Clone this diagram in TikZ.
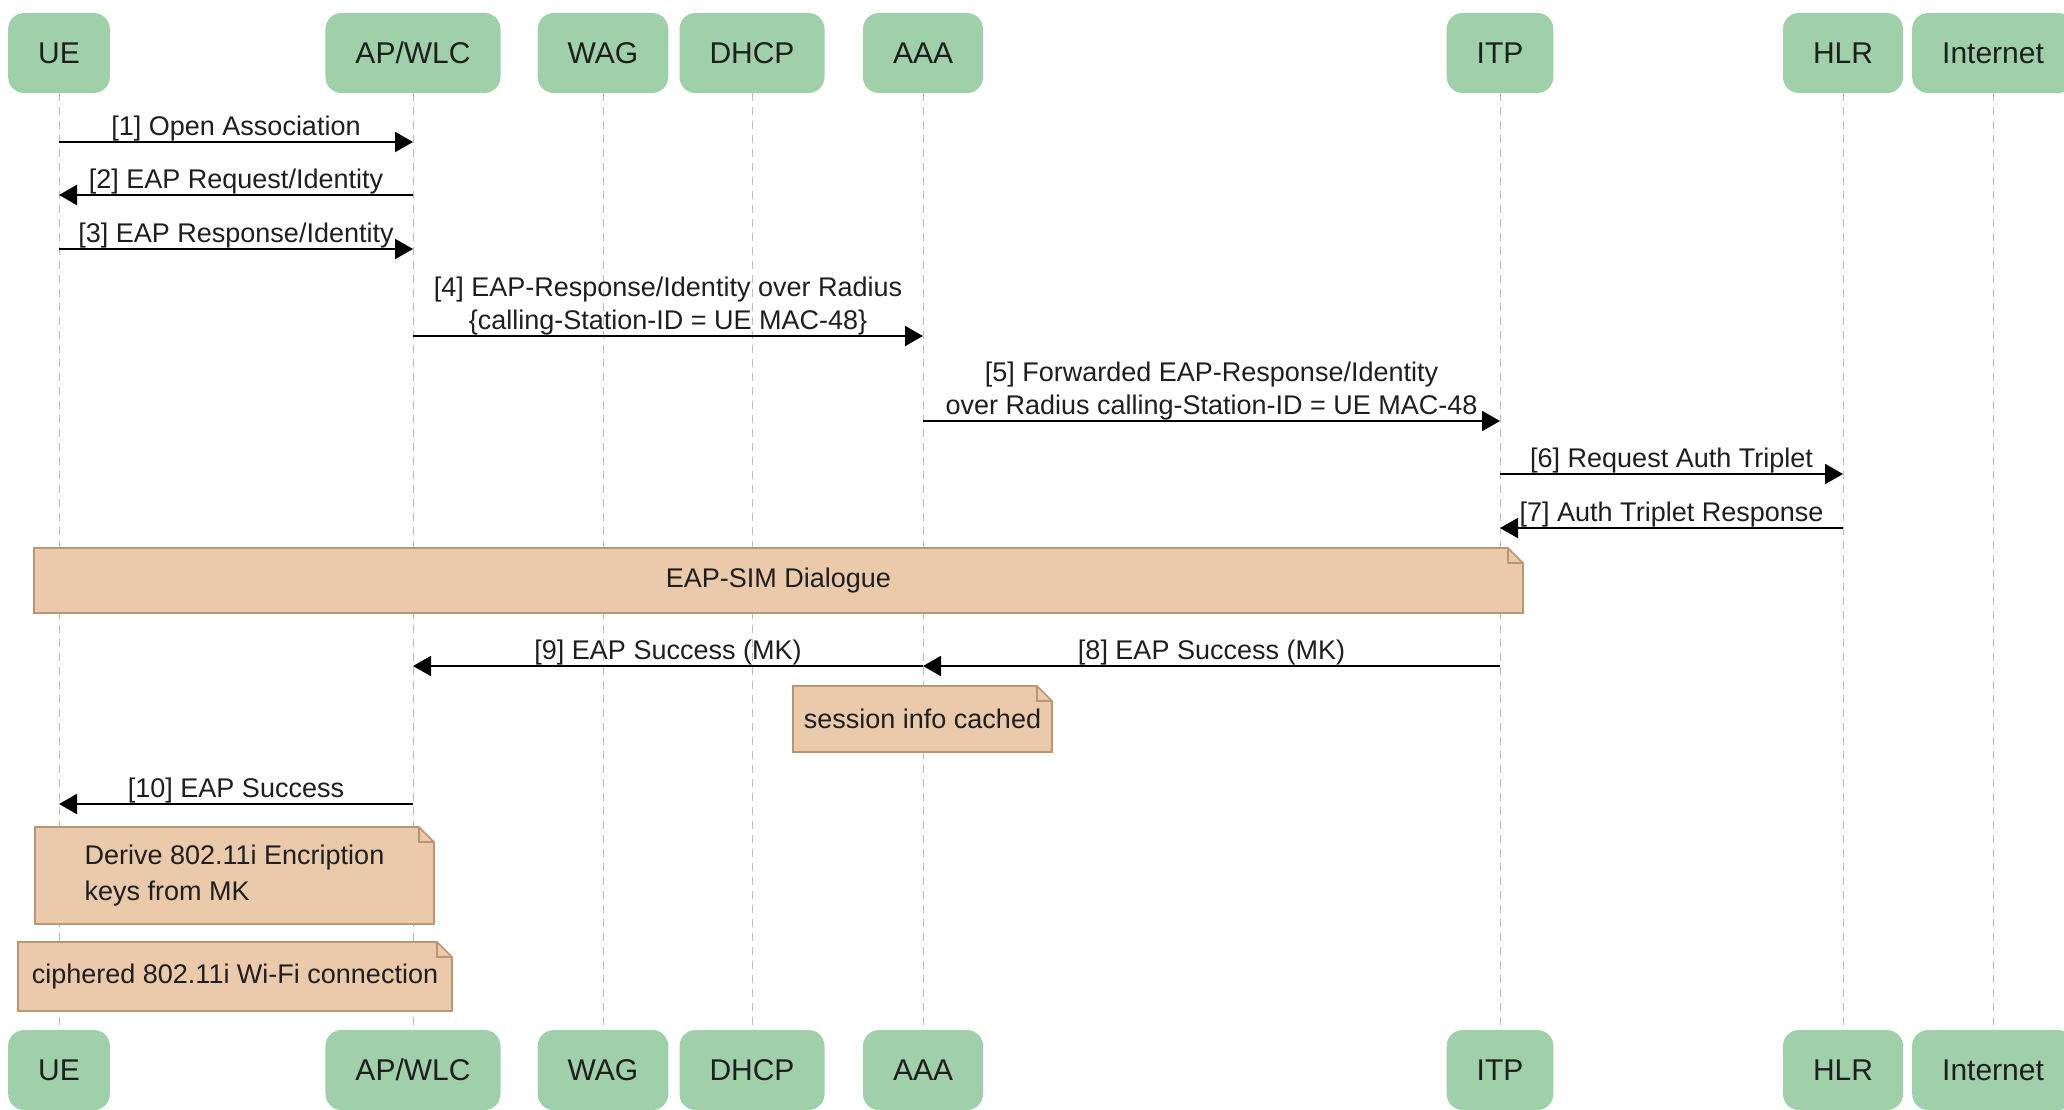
\documentclass[tikz,border=0pt]{standalone}
\usepackage{fontspec}
\setmainfont{Liberation Sans}
\usetikzlibrary{arrows.meta}
\usetikzlibrary{calc}

\definecolor{actorgreen}{HTML}{A0D0AA}
\definecolor{notefill}{HTML}{EBCAAC}
\definecolor{noteline}{HTML}{BC9672}
\definecolor{lifegray}{HTML}{BBBBBB}
\definecolor{inkgray}{HTML}{1E1E1E}

\tikzset{
  actor/.style={fill=actorgreen, rounded corners=8pt, minimum height=40pt,
    inner xsep=15pt, text=inkgray, font=\fontsize{15}{18}\selectfont},
  lifeline/.style={lifegray, line width=0.5pt, dash pattern=on 4pt off 3pt},
  msg/.style={line width=1pt, -{Triangle[length=9pt,width=10pt]}},
  msglabel/.style={above, inner sep=0pt, align=center, text=inkgray,
    font=\fontsize{13.5}{16.5}\selectfont},
  notebox/.style={fill=notefill, draw=noteline, line width=0.8pt},
  notetext/.style={align=left, text=inkgray, font=\fontsize{13.5}{17.5}\selectfont}
}

% note with a folded corner: name, left, top, right, bottom, text
\newcommand{\notebox}[6]{%
  \filldraw[notebox] (#2,#3) -- ({#4-15},#3) -- (#4,{#3+15}) -- (#4,#5) -- (#2,#5) -- cycle;
  \draw[notebox, fill=none] ({#4-15},#3) |- (#4,{#3+15});
  \node[notetext] (#1) at ({(#2+#4)/2},{(#3+#5)/2}) {#6};
}

\begin{document}
\begin{tikzpicture}[x=0.5pt, y=-0.5pt]

\useasboundingbox (0,0) rectangle (2064,1109);

% participants, top and bottom, with their lifelines
\foreach \name/\label/\x in {ue/UE/59, ap/{AP/WLC}/413, wag/WAG/603, dhcp/DHCP/752,
    aaa/AAA/923, itp/ITP/1500, hlr/HLR/1843, inet/Internet/1993}
{
  \node[actor] (\name) at (\x,53) {\label};
  \node[actor] (\name-b) at (\x,1070) {\label};
  \draw[lifeline] (\name.south) -- (\name-b.north);
}

% message levels
\coordinate (m1) at (0,142);
\coordinate (m2) at (0,195);
\coordinate (m3) at (0,249);
\coordinate (m4) at (0,336);
\coordinate (m5) at (0,421);
\coordinate (m6) at (0,474);
\coordinate (m7) at (0,528);
\coordinate (m8) at (0,666);
\coordinate (m10) at (0,804);

\draw[msg] (ue |- m1) -- (ap |- m1) node[msglabel, midway] (l1) {[1] Open Association};
\draw[msg] (ap |- m2) -- (ue |- m2) node[msglabel, midway] (l2) {[2] EAP Request/Identity};
\draw[msg] (ue |- m3) -- (ap |- m3) node[msglabel, midway] (l3) {[3] EAP Response/Identity};
\draw[msg] (ap |- m4) -- (aaa |- m4) node[msglabel, midway] (l4)
  {[4] EAP-Response/Identity over Radius\\\{calling-Station-ID = UE MAC-48\}};
\draw[msg] (aaa |- m5) -- (itp |- m5) node[msglabel, midway] (l5)
  {[5] Forwarded EAP-Response/Identity\\over Radius calling-Station-ID = UE MAC-48};
\draw[msg] (itp |- m6) -- (hlr |- m6) node[msglabel, midway] (l6) {[6] Request Auth Triplet};
\draw[msg] (hlr |- m7) -- (itp |- m7) node[msglabel, midway] (l7) {[7] Auth Triplet Response};

\notebox{sim}{34}{548}{1523}{613}{EAP-SIM Dialogue}

\draw[msg] (itp |- m8) -- (aaa |- m8) node[msglabel, midway] (l8) {[8] EAP Success (MK)};
\draw[msg] (aaa |- m8) -- (ap |- m8) node[msglabel, midway] (l9) {[9] EAP Success (MK)};

\notebox{cache}{793}{686}{1052}{752}{session info cached}

\draw[msg] (ap |- m10) -- (ue |- m10) node[msglabel, midway] (l10) {[10] EAP Success};

\notebox{derive}{35}{827}{434}{924}{Derive 802.11i Encription\\keys from MK}
\notebox{wifi}{18}{942}{452}{1011}{ciphered 802.11i Wi-Fi connection}

\end{tikzpicture}
\end{document}
